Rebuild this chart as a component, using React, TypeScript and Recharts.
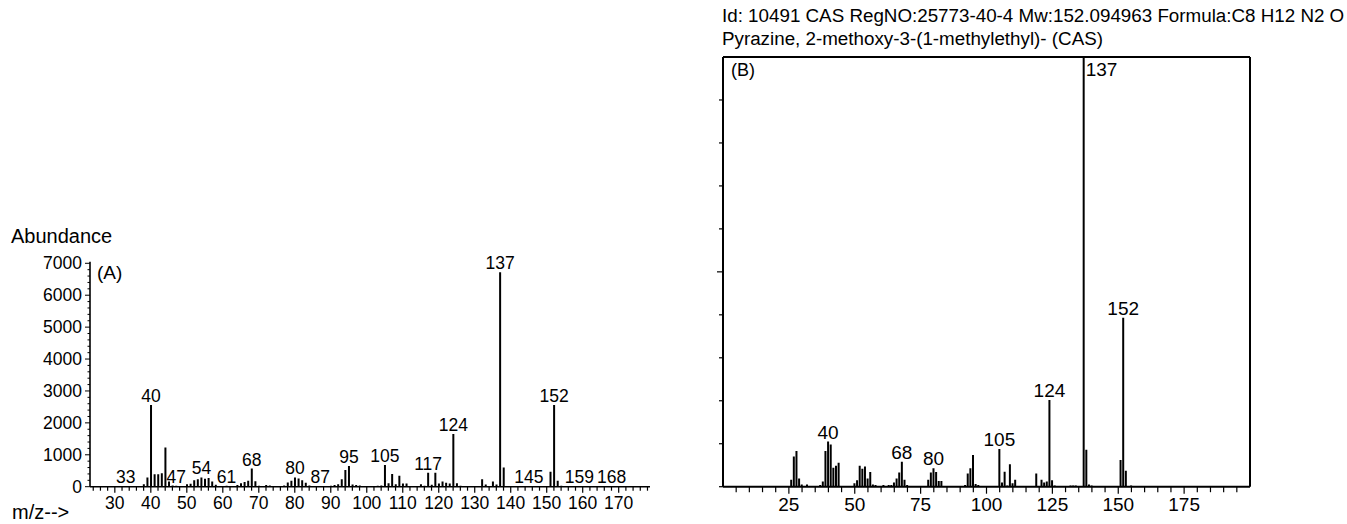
import React from 'react';
import { BarChart, Bar, XAxis, YAxis, LabelList } from 'recharts';

const FONT = '"Liberation Sans", Arial, Helvetica, sans-serif';

// ---------- Spectrum (A): measured sample ----------
const mzA = [
  33, 38, 39, 40, 41, 42, 43, 44, 45, 46, 47, 50, 51, 52, 53, 54, 55, 56, 57, 58,
  61, 62, 64, 65, 66, 67, 68, 69, 70, 72, 73, 77, 78, 79, 80, 81, 82, 83, 84, 86,
  87, 88, 90, 91, 92, 93, 94, 95, 96, 97, 98, 103, 104, 105, 106, 107, 108, 109, 110, 111,
  115, 116, 117, 118, 119, 120, 121, 122, 123, 124, 125, 126, 132, 133, 135, 136, 137, 138,
  145, 151, 152, 153, 154, 159, 168,
];
const abundanceA = [
  10, 80, 290, 2560, 390, 390, 420, 1230, 160, 40, 30, 80, 90, 200, 230, 290, 250, 270, 160, 60,
  30, 20, 50, 110, 150, 190, 570, 170, 30, 50, 40, 40, 130, 190, 290, 260, 200, 120, 40, 20,
  10, 20, 30, 50, 80, 230, 520, 650, 70, 50, 40, 30, 40, 680, 110, 400, 80, 345, 100, 100,
  80, 30, 440, 60, 440, 100, 160, 120, 100, 1650, 110, 30, 230, 70, 160, 70, 6720, 600,
  10, 470, 2560, 190, 30, 10, 10,
];
const labelledA = [33, 40, 47, 54, 61, 68, 80, 87, 95, 105, 117, 124, 137, 145, 152, 159, 168];
const yTicksA = [0, 1000, 2000, 3000, 4000, 5000, 6000, 7000];
const xLabelsA = [30, 40, 50, 60, 70, 80, 90, 100, 110, 120, 130, 140, 150, 160, 170];

// ---------- Spectrum (B): library reference ----------
const mzB = [
  26, 27, 28, 29, 30, 32, 37, 38, 39, 40, 41, 42, 43, 44, 50, 51, 52, 53, 54, 55,
  56, 57, 58, 61, 63, 64, 65, 66, 67, 68, 69, 70, 78, 79, 80, 81, 82, 83, 92, 93,
  94, 95, 96, 97, 105, 106, 107, 108, 109, 110, 111, 119, 121, 122, 123, 124, 125, 126, 132, 133,
  134, 137, 138, 139, 140, 151, 152, 153, 155,
];
const relB = [
  1.6, 7.0, 8.3, 1.9, 0.5, 0.5, 0.4, 1.2, 8.3, 10.5, 9.8, 4.4, 4.9, 5.6, 0.8, 1.5, 4.9, 4.2, 4.7, 1.9,
  3.4, 0.5, 0.4, 0.4, 0.4, 0.4, 1.0, 1.9, 3.3, 5.8, 1.6, 0.4, 1.6, 3.3, 4.3, 3.4, 1.3, 1.3, 0.4, 3.1,
  4.3, 7.4, 0.6, 0.4, 8.8, 1.0, 3.5, 0.3, 5.2, 0.8, 1.6, 3.1, 1.6, 1.0, 1.2, 20.2, 1.5, 0.3, 0.3, 0.3,
  0.3, 100, 8.6, 0.5, 0.3, 6.2, 39.3, 3.7, 0.3,
];
const labelledB = [40, 68, 80, 105, 124, 137, 152];
const xLabelsB = [25, 50, 75, 100, 125, 150, 175];

const titleLine1 = 'Id: 10491 CAS RegNO:25773-40-4 Mw:152.094963 Formula:C8 H12 N2 O';
const titleLine2 = 'Pyrazine, 2-methoxy-3-(1-methylethyl)- (CAS)';

const dataA = mzA.map((mz, i) => ({
  mz,
  v: abundanceA[i],
  label: labelledA.includes(mz) ? String(mz) : undefined,
}));
const dataB = mzB.map((mz, i) => ({
  mz,
  v: relB[i],
  label: labelledB.includes(mz) ? String(mz) : undefined,
}));

const range = (a: number, b: number, s: number) => {
  const out: number[] = [];
  for (let v = a; v <= b + 1e-9; v += s) out.push(v);
  return out;
};
const yMinorA = range(0, 7000, 200);
const xMinorA = range(24, 178, 2);
const yMinorB = range(0, 90, 10);
const xMinorB = range(5, 195, 5);

const makeLabel = (fontSize: number, data: { v: number }[], topValue?: number) => (props: any) => {
  const { value, index } = props;
  if (value === undefined || value === null || value === '') return null;
  const vb = props.viewBox || props;
  const cx = vb.x + vb.width / 2;
  const top = vb.y;
  if (topValue !== undefined && data[index] && data[index].v >= topValue) {
    return (
      <text x={cx + 2} y={top + 19} fontSize={fontSize} fontFamily={FONT} fill="#000" textAnchor="start">
        {value}
      </text>
    );
  }
  return (
    <text x={cx} y={top - 3} fontSize={fontSize} fontFamily={FONT} fill="#000" textAnchor="middle">
      {value}
    </text>
  );
};

const YTickA = (props: any) => {
  const { x, y, payload } = props;
  const v = payload.value;
  const major = yTicksA.includes(v);
  return (
    <g>
      <line x1={x} x2={x - (major ? 5 : 2.5)} y1={y} y2={y} stroke="#000" strokeWidth={1} />
      {major && (
        <text x={x - 8} y={y} dy={6} textAnchor="end" fontSize={17.5} fontFamily={FONT} fill="#000">
          {v}
        </text>
      )}
    </g>
  );
};

const XTickA = (props: any) => {
  const { x, y, payload } = props;
  const v = payload.value;
  const major = xLabelsA.includes(v);
  return (
    <g>
      <line x1={x} x2={x} y1={y} y2={y + (major ? 6 : 4)} stroke="#000" strokeWidth={1.2} />
      {major && (
        <text x={x} y={y + 22} textAnchor="middle" fontSize={17.5} fontFamily={FONT} fill="#000">
          {v}
        </text>
      )}
    </g>
  );
};

const YTickB = (props: any) => {
  const { x, y, payload } = props;
  const v = payload.value;
  return <line x1={x} x2={x - (v === 50 ? 6 : 4)} y1={y} y2={y} stroke="#000" strokeWidth={1.2} />;
};

const XTickB = (props: any) => {
  const { x, y, payload } = props;
  const v = payload.value;
  const major = xLabelsB.includes(v);
  return (
    <g>
      <line x1={x} x2={x} y1={y} y2={y + (major ? 7 : 5.5)} stroke="#000" strokeWidth={1.2} />
      {major && (
        <text x={x} y={y + 24.5} textAnchor="middle" fontSize={19} fontFamily={FONT} fill="#000">
          {v}
        </text>
      )}
    </g>
  );
};

export default function App() {
  return (
    <div style={{ position: 'absolute', left: 0, top: 0, width: 1347, height: 524, background: '#fff', overflow: 'hidden' }}>
      <div style={{ position: 'absolute', left: 0, top: 0 }}>
        <BarChart
          width={660}
          height={524}
          data={dataA}
          margin={{ top: 261.7, right: 10, bottom: 7.3, left: 30 }}
        >
          <XAxis
            dataKey="mz"
            type="number"
            domain={[23.1, 178.7]}
            ticks={xMinorA}
            interval={0}
            height={30}
            tickSize={0}
            tickMargin={0}
            tickLine={false}
            tick={<XTickA />}
            axisLine={{ stroke: '#000', strokeWidth: 1.6 }}
            allowDataOverflow
          />
          <YAxis
            type="number"
            domain={[0, 7050]}
            ticks={yMinorA}
            interval={0}
            width={60}
            tickSize={0}
            tickMargin={0}
            tickLine={false}
            tick={<YTickA />}
            axisLine={{ stroke: '#000', strokeWidth: 1.6 }}
            allowDataOverflow
          />
          <Bar dataKey="v" fill="#000" barSize={2} isAnimationActive={false}>
            <LabelList dataKey="label" content={makeLabel(17.5, dataA)} />
          </Bar>
        </BarChart>
      </div>

      <div style={{ position: 'absolute', left: 680, top: 0 }}>
        <BarChart
          width={667}
          height={524}
          data={dataB}
          margin={{ top: 47, right: 87, bottom: 7.3, left: 3 }}
        >
          <XAxis
            dataKey="mz"
            type="number"
            domain={[0, 200]}
            ticks={xMinorB}
            interval={0}
            height={30}
            tickSize={0}
            tickMargin={0}
            tickLine={false}
            tick={<XTickB />}
            axisLine={{ stroke: '#000', strokeWidth: 2 }}
            allowDataOverflow
          />
          <XAxis
            xAxisId="top"
            orientation="top"
            dataKey="mz"
            type="number"
            domain={[0, 200]}
            height={10}
            tick={false}
            tickLine={false}
            axisLine={{ stroke: '#000', strokeWidth: 2 }}
          />
          <YAxis
            type="number"
            domain={[0, 100]}
            ticks={yMinorB}
            interval={0}
            width={40}
            tickSize={0}
            tickMargin={0}
            tickLine={false}
            tick={<YTickB />}
            axisLine={{ stroke: '#000', strokeWidth: 2 }}
            allowDataOverflow
          />
          <YAxis
            yAxisId="right"
            orientation="right"
            type="number"
            domain={[0, 100]}
            width={10}
            tick={false}
            tickLine={false}
            axisLine={{ stroke: '#000', strokeWidth: 2 }}
          />
          <Bar dataKey="v" fill="#000" barSize={2} isAnimationActive={false}>
            <LabelList dataKey="label" content={makeLabel(19, dataB, 100)} />
          </Bar>
        </BarChart>
      </div>

      <svg
        width={1347}
        height={524}
        style={{ position: 'absolute', left: 0, top: 0, pointerEvents: 'none' }}
      >
        <text x={11} y={243} fontSize={20} fontFamily={FONT} fill="#000">Abundance</text>
        <text x={12} y={519} fontSize={20} fontFamily={FONT} fill="#000">m/z--&gt;</text>
        <text x={97} y={279} fontSize={19} fontFamily={FONT} fill="#000">(A)</text>
        <text x={731} y={76} fontSize={18} fontFamily={FONT} fill="#000">(B)</text>
        <text x={722} y={22} fontSize={18.8} fontFamily={FONT} fill="#000">{titleLine1}</text>
        <text x={722} y={45} fontSize={18.8} fontFamily={FONT} fill="#000">{titleLine2}</text>
      </svg>
    </div>
  );
}
